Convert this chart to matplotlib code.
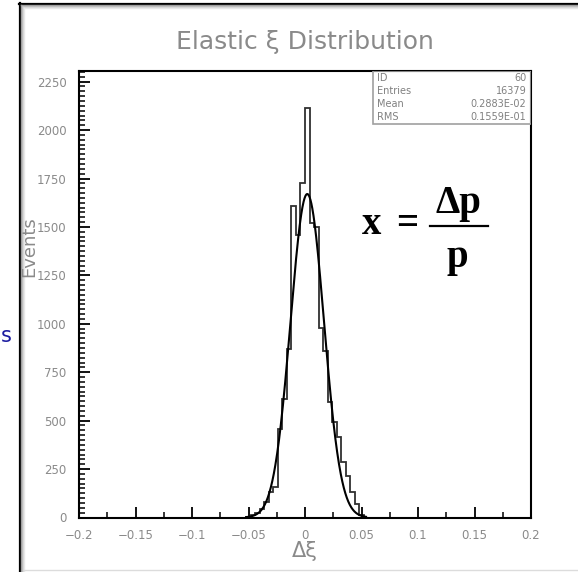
#!/usr/bin/env python
import numpy as np
import matplotlib
matplotlib.use('Agg')
import matplotlib.pyplot as plt
from matplotlib.lines import Line2D
from matplotlib.patches import Rectangle
from matplotlib.ticker import MultipleLocator

W, H = 578, 572

# Histogram of delta xi (counts), bin width 0.004
bin_lo = -0.052
bin_w = 0.004
counts = [4, 12, 25, 45, 80, 130, 155, 457, 611, 868, 1610, 1460, 1725,
          2115, 1520, 1500, 980, 857, 595, 492, 415, 287, 215, 133, 72, 15]

# Gaussian fit parameters
fit_amp = 1670
fit_mean = 0.002
fit_sigma = 0.0148
fit_range = (-0.052, 0.054)

# stats box
stat_names = ['ID', 'Entries', 'Mean', 'RMS']
stat_values = ['60', '16379', '0.2883E-02', '0.1559E-01']

xticks = [-0.2, -0.15, -0.1, -0.05, 0, 0.05, 0.1, 0.15, 0.2]
xticklabels = ['\u22120.2', '\u22120.15', '\u22120.1', '\u22120.05', '0',
               '0.05', '0.1', '0.15', '0.2']
yticks = [0, 250, 500, 750, 1000, 1250, 1500, 1750, 2000, 2250]

def fx(px):
    return px / W

def fy(py):
    return 1 - py / H

fig = plt.figure(figsize=(W / 100, H / 100), dpi=100)
fig.patch.set_facecolor('white')

# slide frame
fig.add_artist(Line2D([fx(19), 1], [fy(3.5), fy(3.5)], color='black', lw=1.6))
fig.add_artist(Line2D([fx(19.5), fx(19.5)], [fy(3), 0], color='black', lw=1.6))
for off, c in [(1.5, '#9a9a9a'), (2.5, '#b8b8b8'), (3.5, '#d4d4d4'), (4.5, '#e8e8e8')]:
    fig.add_artist(Line2D([fx(19.5 + off), fx(19.5 + off)], [fy(3.5 + off), 0], color=c, lw=1))
    fig.add_artist(Line2D([fx(19.5 + off), 1], [fy(3.5 + off), fy(3.5 + off)], color=c, lw=1))
fig.add_artist(Line2D([fx(24), 1], [fy(570), fy(570)], color='#dcdcdc', lw=1))

# slide text at the far left edge
fig.text(fx(1), fy(336), 's', color='#1c1ca0', fontsize=15, ha='left', va='center')

ax = fig.add_axes([fx(79), fy(517.5), (531 - 79) / W, (517.5 - 71) / H])

edges = bin_lo + bin_w * np.arange(len(counts) + 1)
ax.stairs(counts, edges, color='#303030', lw=1.3)

xf = np.linspace(fit_range[0], fit_range[1], 400)
yf = fit_amp * np.exp(-0.5 * ((xf - fit_mean) / fit_sigma) ** 2)
ax.plot(xf, yf, color='black', lw=1.5)

ax.set_xlim(-0.2, 0.2)
ax.set_ylim(0, 2305)

ax.set_xticks(xticks)
ax.set_xticklabels(xticklabels)
ax.set_yticks(yticks)
ax.xaxis.set_minor_locator(MultipleLocator(0.025))
ax.yaxis.set_minor_locator(MultipleLocator(25))
ax.tick_params(which='major', direction='in', length=8, width=1.3, colors='black',
               labelcolor='#8a8a8a', labelsize=8.5)
ax.tick_params(which='minor', direction='in', length=4, width=1.1, colors='black')
ax.tick_params(axis='y', which='major', pad=9)
ax.tick_params(axis='x', which='major', pad=8)
for s in ax.spines.values():
    s.set_linewidth(1.5)
    s.set_color('black')

# stats box
bx0 = (373 - 79) / 452
by0 = (517.5 - 124) / (517.5 - 71)
ax.add_patch(Rectangle((bx0, by0), 1 - bx0, 1 - by0, transform=ax.transAxes,
                       fill=False, edgecolor='#a0a0a0', lw=1.2, zorder=5))
row_h = (1 - by0) / 4
for i, (n, v) in enumerate(zip(stat_names, stat_values)):
    yy = 1 - row_h * (i + 0.5)
    ax.text(bx0 + 0.008, yy, n, transform=ax.transAxes, ha='left', va='center',
            fontsize=7, color='#808080')
    ax.text(0.99, yy, v, transform=ax.transAxes, ha='right', va='center',
            fontsize=7, color='#808080')

# titles and labels
fig.text(fx(305), fy(42), 'Elastic \u03be Distribution', ha='center', va='center',
         fontsize=18, color='#8a8a8a')
fig.text(fx(29), fy(247), 'Events', rotation=90, ha='center', va='center',
         fontsize=13, color='#8a8a8a')
fig.text(fx(305), fy(551), '\u0394\u03be', ha='center', va='center',
         fontsize=15, color='#8a8a8a')

# formula
serif = dict(family='Liberation Serif', weight='bold', color='black')
fig.text(fx(372), fy(225), 'x', ha='center', va='center', fontsize=28, **serif)
fig.text(fx(407), fy(225), '=', ha='center', va='center', fontsize=28, **serif)
fig.text(fx(458), fy(203), '\u0394p', ha='center', va='center', fontsize=28, **serif)
fig.add_artist(Line2D([fx(430), fx(488)], [fy(226), fy(226)], color='black', lw=1.6))
fig.text(fx(457), fy(258), 'p', ha='center', va='center', fontsize=28, **serif)

fig.savefig('out.png', dpi=100, facecolor='white')
